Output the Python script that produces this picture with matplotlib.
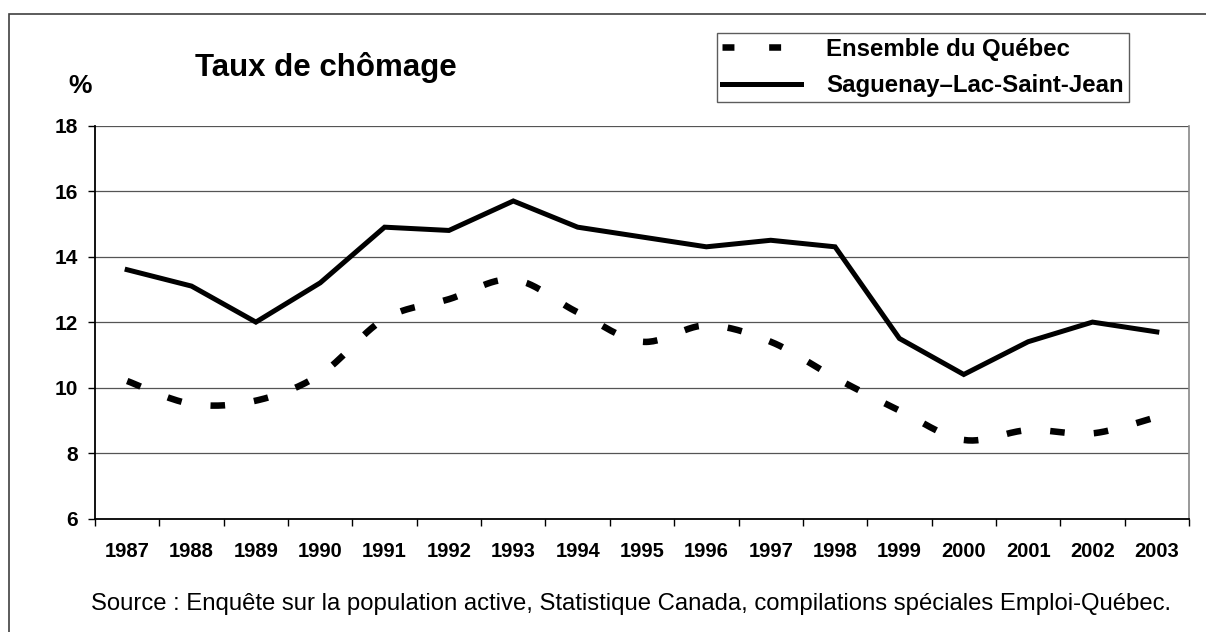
import numpy as np
import matplotlib
matplotlib.use("Agg")
import matplotlib.pyplot as plt
from matplotlib.patches import Rectangle
from matplotlib.lines import Line2D

plt.rcParams['font.family'] = ['Liberation Sans', 'DejaVu Sans']
plt.rcParams['lines.scale_dashes'] = False

years = ['1987', '1988', '1989', '1990', '1991', '1992', '1993', '1994', '1995',
         '1996', '1997', '1998', '1999', '2000', '2001', '2002', '2003']
quebec = [10.2, 9.5, 9.6, 10.4, 12.1, 12.7, 13.3, 12.3, 11.4, 11.9, 11.4, 10.3,
          9.3, 8.4, 8.7, 8.6, 9.1]
saguenay = [13.6, 13.1, 12.0, 13.2, 14.9, 14.8, 15.7, 14.9, 14.6, 14.3, 14.5, 14.3,
            11.5, 10.4, 11.4, 12.0, 11.7]
yticks = [6, 8, 10, 12, 14, 16, 18]

label_q = 'Ensemble du Québec'
label_s = 'Saguenay–Lac-Saint-Jean'
title = 'Taux de chômage'
source = ('Source : Enquête sur la population active, Statistique Canada, '
          'compilations spéciales Emploi-Québec.')


def smooth(yv, n=30):
    """Excel-like smoothed curve (Catmull-Rom / cubic Bezier) through the points."""
    y = np.asarray(yv, float)
    x = np.arange(len(y), dtype=float)
    P = np.column_stack([x, y])
    ext = np.vstack([P[0], P, P[-1]])
    out = []
    t = np.linspace(0, 1, n)[:, None]
    for i in range(len(P) - 1):
        p0, p1, p2, p3 = ext[i], ext[i + 1], ext[i + 2], ext[i + 3]
        c1 = p1 + (p2 - p0) / 6.0
        c2 = p2 - (p3 - p1) / 6.0
        seg = ((1 - t) ** 3) * p1 + 3 * ((1 - t) ** 2) * t * c1 + 3 * (1 - t) * t ** 2 * c2 + t ** 3 * p2
        out.append(seg if i == 0 else seg[1:])
    c = np.vstack(out)
    return c[:, 0], c[:, 1]


W, H = 1206, 632
fig = plt.figure(figsize=(W / 100, H / 100), dpi=100)

# outer frame
fig.patches.append(Rectangle((9 / W, -0.02), 1.02 - 9 / W, 1 - 14 / H + 0.02,
                             transform=fig.transFigure, fill=False,
                             edgecolor='#404040', linewidth=1.2))

L, R, T, B = 95, 1189, 125.7, 518.5
ax = fig.add_axes([L / W, 1 - B / H, (R - L) / W, (B - T) / H])

x = np.arange(len(years))
sx, sy = smooth(quebec)
ax.plot(sx, sy, color='black', linewidth=4.7, linestyle=(0, (10.5, 21)),
        solid_capstyle='butt', dash_capstyle='butt')
ax.plot(x, saguenay, color='black', linewidth=3.6, solid_joinstyle='miter')

ax.set_xlim(-0.5, len(years) - 0.5)
ax.set_ylim(6, 18)
ax.set_yticks(yticks)
ax.set_yticklabels([str(v) for v in yticks], fontsize=15, fontweight='bold')
ax.set_xticks(x)
ax.set_xticklabels(years, fontsize=14.5, fontweight='bold')
ax.set_xticks(np.arange(len(years) + 1) - 0.5, minor=True)
ax.tick_params(axis='x', which='major', length=0, pad=17)
ax.tick_params(axis='x', which='minor', length=5, width=1, color='black')
ax.tick_params(axis='y', which='major', length=5, width=1, pad=7)

for v in yticks[1:]:
    ax.axhline(v, color='#555555', linewidth=0.9, zorder=0)

for s in ['left', 'bottom']:
    ax.spines[s].set_color('black')
    ax.spines[s].set_linewidth(1.3)
ax.spines['top'].set_visible(False)
ax.spines['right'].set_color('#888888')
ax.spines['right'].set_linewidth(1.2)

fig.text(195 / W, 1 - 76 / H, title, fontsize=22.5, fontweight='bold',
         ha='left', va='baseline')
fig.text(80 / W, 1 - 86 / H, '%', fontsize=19, fontweight='bold',
         ha='center', va='center')
fig.text(631 / W, 1 - 604 / H, source, fontsize=17.2, ha='center', va='center')

handles = [Line2D([], [], color='black', linewidth=4.7, linestyle=(0, (8.6, 25)),
                  dash_capstyle='butt'),
           Line2D([], [], color='black', linewidth=3.6)]
leg = fig.legend(handles, [label_q, label_s], loc='upper left',
                 bbox_to_anchor=(717 / W, 1 - 33 / H), borderaxespad=0,
                 prop={'weight': 'bold', 'size': 17.3, 'family': ['Liberation Sans']},
                 frameon=True, fancybox=False, handlelength=3.3,
                 handletextpad=1.05, labelspacing=0.55, borderpad=0.2)
leg.get_frame().set_edgecolor('#333333')
leg.get_frame().set_linewidth(1.0)

fig.savefig('out.png', dpi=100)
